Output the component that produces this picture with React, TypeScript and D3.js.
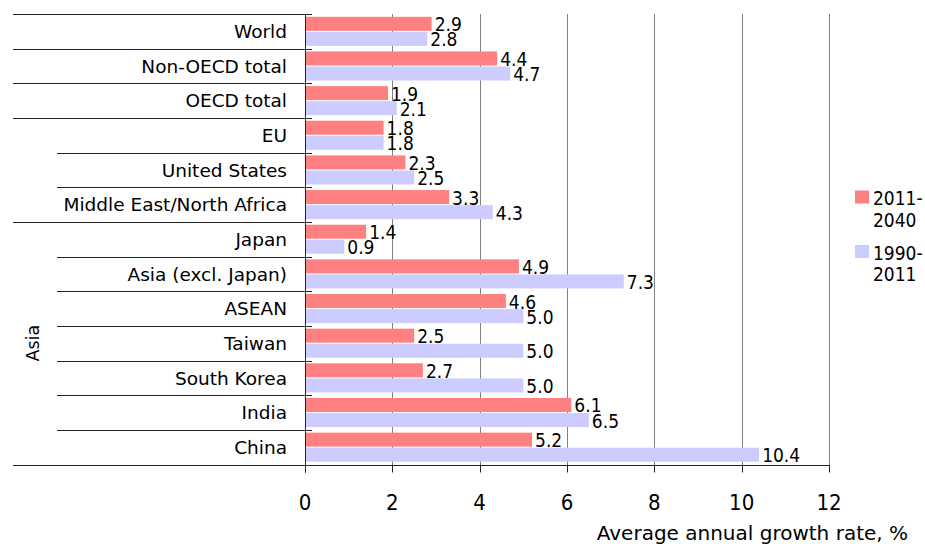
import React from "react";
import * as d3 from "d3";

const categories = [
  "World",
  "Non-OECD total",
  "OECD total",
  "EU",
  "United States",
  "Middle East/North Africa",
  "Japan",
  "Asia (excl. Japan)",
  "ASEAN",
  "Taiwan",
  "South Korea",
  "India",
  "China",
];
const values2011_2040 = [2.9, 4.4, 1.9, 1.8, 2.3, 3.3, 1.4, 4.9, 4.6, 2.5, 2.7, 6.1, 5.2];
const values1990_2011 = [2.8, 4.7, 2.1, 1.8, 2.5, 4.3, 0.9, 7.3, 5.0, 5.0, 5.0, 6.5, 10.4];
const seriesLabels = [
  ["2011-", "2040"],
  ["1990-", "2011"],
];
const seriesColors = ["#FF8080", "#CCCCFF"];
const xTicks = [0, 2, 4, 6, 8, 10, 12];
const xDomain = [0, 12];
const groups = [
  { name: "", start: 3, end: 5 },
  { name: "Asia", start: 6, end: 12 },
];
const axisTitle = "Average annual growth rate, %";

const W = 925;
const H = 544;
const plotLeft = 305;
const plotRight = 829;
const plotTop = 14;
const plotBottom = 464.5;
const labelLeft = 13;
const groupLineLeft = 57;

const catFont = "'DejaVu Sans', sans-serif";
const numFont = "'DejaVu Sans Condensed', 'DejaVu Sans', sans-serif";

export default function App() {
  const x = d3.scaleLinear().domain(xDomain).range([plotLeft, plotRight]);
  const y = d3.scaleBand<string>().domain(categories).range([plotTop, plotBottom]).padding(0);
  const inner = d3
    .scaleBand<number>()
    .domain([0, 1])
    .range([0, y.bandwidth()])
    .paddingInner(0.07)
    .paddingOuter(0.186);
  const fmt = d3.format(".1f");
  const series = [values2011_2040, values1990_2011];

  // separator lines at row boundaries
  const boundaries = d3.range(categories.length + 1).map((i) => {
    const yy = i < categories.length ? (y(categories[i]) as number) : plotBottom;
    // short if boundary is interior of a group
    const inside = groups.some((g) => i > g.start && i <= g.end);
    return { yy: Math.round(yy) + 0.5, left: inside ? groupLineLeft : labelLeft };
  });

  return (
    <div style={{ position: "absolute", left: 0, top: 0 }}>
      <svg width={W} height={H} style={{ display: "block", background: "#fff" }}>
        {/* gridlines */}
        {xTicks.slice(1).map((t) => (
          <line
            key={"g" + t}
            x1={Math.round(x(t)) + 0.5}
            x2={Math.round(x(t)) + 0.5}
            y1={plotTop}
            y2={plotBottom}
            stroke="#808080"
            strokeWidth={1}
          />
        ))}
        {/* bars */}
        {series.map((vals, si) =>
          vals.map((v, i) => (
            <rect
              key={"b" + si + "-" + i}
              x={x(0) + 1}
              y={(y(categories[i]) as number) + (inner(si) as number)}
              width={x(v) - x(0) - 1}
              height={inner.bandwidth()}
              fill={seriesColors[si]}
            />
          ))
        )}
        {/* value labels */}
        {series.map((vals, si) =>
          vals.map((v, i) => (
            <text
              key={"v" + si + "-" + i}
              x={x(v) + 3}
              y={(y(categories[i]) as number) + (inner(si) as number) + inner.bandwidth() + 0.5}
              fontFamily={numFont}
              fontSize={19}
              fill="#000"
            >
              {fmt(v)}
            </text>
          ))
        )}
        {/* separators */}
        {boundaries.map((b, i) => (
          <line
            key={"s" + i}
            x1={b.left}
            x2={plotLeft + 7}
            y1={b.yy}
            y2={b.yy}
            stroke="#222"
            strokeWidth={1}
          />
        ))}
        {/* x axis line */}
        <line x1={labelLeft} x2={plotRight} y1={Math.round(plotBottom) + 0.5} y2={Math.round(plotBottom) + 0.5} stroke="#222" />
        {/* y axis line */}
        <line x1={plotLeft + 0.5} x2={plotLeft + 0.5} y1={plotTop} y2={plotBottom + 8} stroke="#222" />
        {/* ticks */}
        {xTicks.map((t) => (
          <g key={"t" + t}>
            <line
              x1={Math.round(x(t)) + 0.5}
              x2={Math.round(x(t)) + 0.5}
              y1={plotBottom}
              y2={plotBottom + 8}
              stroke="#222"
            />
            <text
              x={x(t)}
              y={510}
              textAnchor="middle"
              fontFamily={numFont}
              fontSize={22}
              fill="#000"
            >
              {t}
            </text>
          </g>
        ))}
        {/* category labels */}
        {categories.map((c) => (
          <text
            key={"c" + c}
            x={287}
            y={(y(c) as number) + y.bandwidth() / 2}
            dy="0.36em"
            textAnchor="end"
            fontFamily={catFont}
            fontSize={18.5}
            fill="#000"
          >
            {c}
          </text>
        ))}
        {/* group labels */}
        {groups
          .filter((g) => g.name)
          .map((g) => {
            const y0 = y(categories[g.start]) as number;
            const y1 = (y(categories[g.end]) as number) + y.bandwidth();
            const cy = (y0 + y1) / 2;
            return (
              <text
                key={"gr" + g.name}
                transform={`translate(33,${cy}) rotate(-90)`}
                dy="0.36em"
                textAnchor="middle"
                fontFamily={catFont}
                fontSize={17.5}
                fill="#000"
              >
                {g.name}
              </text>
            );
          })}
        {/* axis title */}
        <text x={908} y={540} textAnchor="end" fontFamily={catFont} fontSize={20} fill="#000">
          {axisTitle}
        </text>
        {/* legend */}
        {seriesLabels.map((lines, si) => {
          const top = 190.5 + si * 54.5;
          return (
            <g key={"l" + si}>
              <rect x={855} y={top} width={14} height={13} fill={seriesColors[si]} />
              {lines.map((ln, li) => (
                <text
                  key={li}
                  x={873}
                  y={top + 14.5 + li * 21.5}
                  fontFamily={numFont}
                  fontSize={19}
                  fill="#000"
                >
                  {ln}
                </text>
              ))}
            </g>
          );
        })}
      </svg>
    </div>
  );
}
